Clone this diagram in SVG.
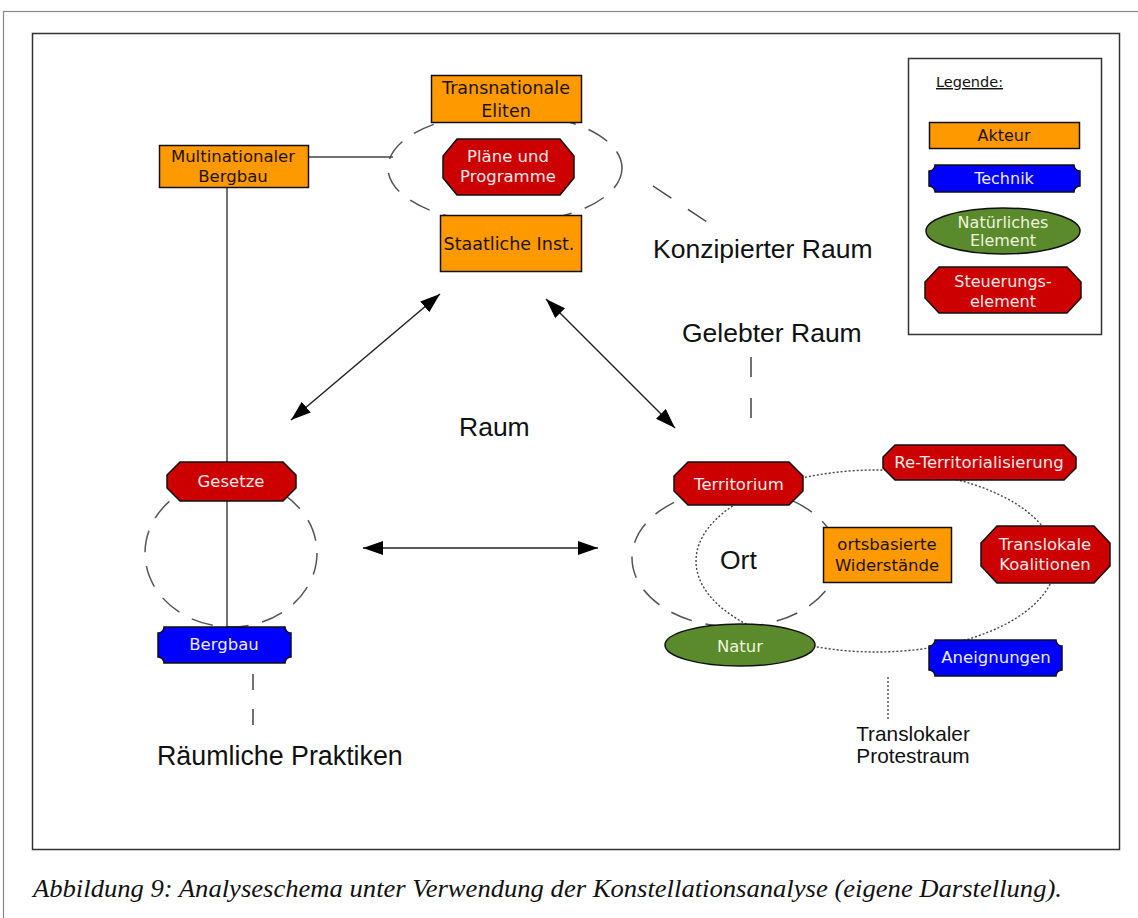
<svg xmlns="http://www.w3.org/2000/svg" width="1138" height="918" viewBox="0 0 1138 918">
  <style>
    .frame { fill: none; stroke: #333; stroke-width: 1.5; }
    .akteur { fill: #ff9900; stroke: #111; stroke-width: 1.5; }
    .technik { fill: #0000ff; stroke: #111; stroke-width: 1.5; }
    .natur { fill: #5b8a2d; stroke: #111; stroke-width: 1.5; }
    .steuer { fill: #cc0000; stroke: #111; stroke-width: 1.5; }
    .nt { font-family: "DejaVu Sans", Verdana, sans-serif; font-size: 16.5px; text-anchor: middle; }
    .dark { fill: #1a1400; }
    .light { fill: #fbeaea; }
    .lblue { fill: #ececff; }
    .lgreen { fill: #eef3dc; }
    .label { font-family: "Liberation Sans", Arial, sans-serif; font-size: 26.5px; fill: #111; }
    .dashring { fill: none; stroke: #555; stroke-width: 1.5; stroke-dasharray: 22 14; }
    .dotted { fill: none; stroke: #444; stroke-width: 1.4; stroke-dasharray: 2 2; }
    .solid { stroke: #444; stroke-width: 1.5; fill: none; }
    .arrow { stroke: #222; stroke-width: 1.5; fill: none; marker-start: url(#head); marker-end: url(#head); }
  </style>
  <defs>
    <marker id="head" viewBox="0 0 20 14" refX="20" refY="7" markerWidth="20" markerHeight="14" markerUnits="userSpaceOnUse" orient="auto-start-reverse">
      <path d="M0,0 L20,7 L0,14 Z" fill="#000"/>
    </marker>
  </defs>

  <rect width="1138" height="918" fill="#fff"/>
  <!-- page and figure frames -->
  <rect x="3.5" y="11.5" width="1200" height="1000" fill="none" stroke="#888" stroke-width="1.2"/>
  <rect class="frame" x="32.5" y="33.5" width="1087" height="816"/>

  <!-- background rings and connectors -->
  <g id="connectors">
    <ellipse class="dashring" cx="505" cy="168" rx="117" ry="55"/>
    <ellipse class="dashring" cx="231" cy="553" rx="86" ry="74"/>
    <ellipse class="dashring" cx="735" cy="558" rx="103" ry="69"/>
    <ellipse class="dotted" cx="876" cy="561" rx="180" ry="91"/>
    <line class="solid" x1="308" y1="157" x2="393" y2="157"/>
    <line class="solid" x1="227" y1="187" x2="227" y2="628"/>
    <line class="arrow" x1="291" y1="420" x2="440" y2="294"/>
    <line class="arrow" x1="546" y1="299" x2="675" y2="428"/>
    <line class="arrow" x1="363" y1="548" x2="598" y2="548"/>
    <line x1="653" y1="186" x2="707" y2="222" stroke="#444" stroke-width="1.5" stroke-dasharray="22 20"/>
    <line x1="751" y1="357" x2="751" y2="420" stroke="#444" stroke-width="1.5" stroke-dasharray="20 21"/>
    <line x1="253" y1="674" x2="253" y2="729" stroke="#444" stroke-width="1.5" stroke-dasharray="16 19"/>
    <line x1="888" y1="677" x2="888" y2="720" stroke="#444" stroke-width="1.4" stroke-dasharray="2 2"/>
  </g>

  <!-- Konzipierter Raum cluster -->
  <g id="transnationale-eliten">
    <rect class="akteur" x="431.5" y="75.5" width="150" height="47"/>
    <text class="nt dark" x="506" y="94" style="font-size:17.5px">Transnationale</text>
    <text class="nt dark" x="506" y="117" style="font-size:17.5px">Eliten</text>
  </g>
  <g id="plaene-programme">
    <polygon class="steuer" points="457,139 560,139 574,156 574,178 560,195 457,195 443,178 443,156"/>
    <text class="nt light" x="508" y="162">Pläne und</text>
    <text class="nt light" x="508" y="182">Programme</text>
  </g>
  <g id="staatliche-inst">
    <rect class="akteur" x="440.5" y="215.5" width="141" height="56"/>
    <text class="nt dark" x="509" y="250" style="font-size:17.5px">Staatliche Inst.</text>
  </g>
  <g id="multinationaler-bergbau">
    <rect class="akteur" x="159.5" y="145.5" width="149" height="42"/>
    <text class="nt dark" x="233" y="162" style="font-size:16.5px">Multinationaler</text>
    <text class="nt dark" x="233" y="182" style="font-size:16.5px">Bergbau</text>
  </g>

  <!-- Räumliche Praktiken cluster -->
  <g id="gesetze">
    <polygon class="steuer" points="180,462 283,462 296,475 296,488 283,501 180,501 167,488 167,475"/>
    <text class="nt light" x="231" y="487">Gesetze</text>
  </g>
  <g id="bergbau">
    <path class="technik" d="M164,627 H285 A6,6 0 0 0 291,633 V657 A6,6 0 0 0 285,663 H164 A6,6 0 0 0 158,657 V633 A6,6 0 0 0 164,627 Z"/>
    <text class="nt lblue" x="224" y="650">Bergbau</text>
  </g>

  <!-- Ort / translokaler Protestraum cluster -->
  <g id="territorium">
    <polygon class="steuer" points="688,462 789,462 803,476 803,491 789,505 688,505 674,491 674,476"/>
    <text class="nt light" x="739" y="490">Territorium</text>
  </g>
  <g id="re-territorialisierung">
    <polygon class="steuer" points="895,445 1064,445 1076,457 1076,468 1064,480 895,480 883,468 883,457"/>
    <text class="nt light" x="979" y="468">Re-Territorialisierung</text>
  </g>
  <g id="translokale-koalitionen">
    <polygon class="steuer" points="997,526 1094,526 1110,543 1110,566 1094,583 997,583 981,566 981,543"/>
    <text class="nt light" x="1045" y="550">Translokale</text>
    <text class="nt light" x="1045" y="570">Koalitionen</text>
  </g>
  <g id="ortsbasierte-widerstaende">
    <rect class="akteur" x="823.5" y="527.5" width="128" height="55"/>
    <text class="nt dark" x="887" y="550">ortsbasierte</text>
    <text class="nt dark" x="887" y="571">Widerstände</text>
  </g>
  <g id="aneignungen">
    <path class="technik" d="M935,640 H1056 A6,6 0 0 0 1062,646 V670 A6,6 0 0 0 1056,676 H935 A6,6 0 0 0 929,670 V646 A6,6 0 0 0 935,640 Z"/>
    <text class="nt lblue" x="996" y="663">Aneignungen</text>
  </g>
  <g id="natur">
    <ellipse class="natur" cx="740" cy="645" rx="75" ry="21"/>
    <text class="nt lgreen" x="740" y="652">Natur</text>
  </g>

  <!-- space labels -->
  <g id="labels">
    <text class="label" x="653" y="258">Konzipierter Raum</text>
    <text class="label" x="682" y="342">Gelebter Raum</text>
    <text class="label" x="459" y="436">Raum</text>
    <text class="label" x="720" y="569">Ort</text>
    <text class="label" x="157" y="765" style="font-size:26.8px">Räumliche Praktiken</text>
    <text x="913" y="741" text-anchor="middle" font-family="Liberation Sans, Arial, sans-serif" font-size="20.8" fill="#111">Translokaler</text>
    <text x="913" y="763" text-anchor="middle" font-family="Liberation Sans, Arial, sans-serif" font-size="20.8" fill="#111">Protestraum</text>
  </g>

  <!-- legend -->
  <g id="legend">
    <rect class="frame" x="908.5" y="58.5" width="193" height="276"/>
    <text x="936" y="87" font-family="DejaVu Sans, Verdana, sans-serif" font-size="14.5" fill="#111" text-decoration="underline">Legende:</text>
    <rect class="akteur" x="929.5" y="122.5" width="150" height="26"/>
    <text class="nt dark" x="1004" y="141" style="font-size:16px">Akteur</text>
    <path class="technik" d="M935,165 H1074 A6,6 0 0 0 1080,171 V186 A6,6 0 0 0 1074,192 H935 A6,6 0 0 0 929,186 V171 A6,6 0 0 0 935,165 Z"/>
    <text class="nt lblue" x="1004" y="184" style="font-size:16px">Technik</text>
    <ellipse class="natur" cx="1003" cy="231" rx="77" ry="23"/>
    <text class="nt lgreen" x="1003" y="228" style="font-size:16px">Natürliches</text>
    <text class="nt lgreen" x="1003" y="246" style="font-size:16px">Element</text>
    <polygon class="steuer" points="939,267 1067,267 1081,282 1081,298 1067,313 939,313 925,298 925,282"/>
    <text class="nt light" x="1003" y="287" style="font-size:16px">Steuerungs-</text>
    <text class="nt light" x="1003" y="307" style="font-size:16px">element</text>
  </g>

  <!-- caption -->
  <text x="33" y="897" font-family="Liberation Serif, Times New Roman, serif" font-style="italic" font-size="25.5" fill="#111" textLength="1029" lengthAdjust="spacingAndGlyphs">Abbildung 9: Analyseschema unter Verwendung der Konstellationsanalyse (eigene Darstellung).</text>
</svg>
